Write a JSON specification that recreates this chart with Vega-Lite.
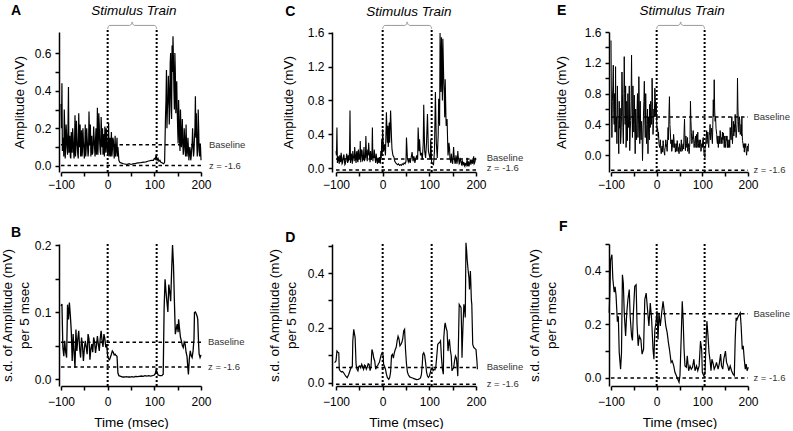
{
"$schema":"https://vega.github.io/schema/vega-lite/v6.json",
"padding":{"left":0,"top":3,"right":0,"bottom":0},
"autosize":{"type":"pad"},
"config":{"view":{"stroke":null},"font":"Liberation Sans",
"axis":{"domainColor":"#000","domainWidth":1.5,"tickColor":"#000","tickWidth":1.5,"tickSize":4,"labelColor":"#000","labelFontSize":12,"titleFontSize":13.5,"titleFontWeight":"normal","titleColor":"#000","grid":false,"labelFlush":false,"labelOverlap":false},
"axisX":{"labelPadding":3},"axisY":{"labelPadding":4}},
"bounds":"flush","columns":3,"spacing":{"row":72,"column":135},
"datasets":{
"refs":[{"p":"A","label":"Baseline","v":0.113,"lv":0.113},{"p":"A","label":"z = -1.6","v":0.002,"lv":0.0},{"p":"B","label":"Baseline","v":0.055,"lv":0.055},{"p":"B","label":"z = -1.6","v":0.018,"lv":0.018},{"p":"C","label":"Baseline","v":0.107,"lv":0.124},{"p":"C","label":"z = -1.6","v":-0.024,"lv":0.006},{"p":"D","label":"Baseline","v":0.056,"lv":0.058},{"p":"D","label":"z = -1.6","v":-0.005,"lv":-0.004},{"p":"E","label":"Baseline","v":0.495,"lv":0.5},{"p":"E","label":"z = -1.6","v":-0.195,"lv":-0.19},{"p":"F","label":"Baseline","v":0.24,"lv":0.24},{"p":"F","label":"z = -1.6","v":0.0,"lv":0.0}],
"stim":[{"t":0},{"t":105}],
"brace":[{"t":0,"bA":0.7284,"bC":1.6475,"bE":1.64},{"t":1.5,"bA":0.7418,"bC":1.6773,"bE":1.6727},{"t":5,"bA":0.747,"bC":1.6889,"bE":1.6855},{"t":47,"bA":0.747,"bC":1.6889,"bE":1.6855},{"t":51,"bA":0.7537,"bC":1.7038,"bE":1.7018},{"t":52.5,"bA":0.7656,"bC":1.7304,"bE":1.7309},{"t":54,"bA":0.7537,"bC":1.7038,"bE":1.7018},{"t":58,"bA":0.747,"bC":1.6889,"bE":1.6855},{"t":100,"bA":0.747,"bC":1.6889,"bE":1.6855},{"t":103.5,"bA":0.7418,"bC":1.6773,"bE":1.6727},{"t":105,"bA":0.7284,"bC":1.6475,"bE":1.64}],
"notes":[{"text":"Stimulus Train"}],
"panels":[{"p":"A"},{"p":"B"},{"p":"C"},{"p":"D"},{"p":"E"},{"p":"F"}],
"A":[{"t":-100,"v":0.33},{"t":-98,"v":0.44},{"t":-96,"v":0.15},{"t":-94,"v":0.05},{"t":-92,"v":0.2},{"t":-90,"v":0.1},{"t":-88,"v":0.16},{"t":-86,"v":0.06},{"t":-84,"v":0.42},{"t":-82,"v":0.12},{"t":-80,"v":0.05},{"t":-78,"v":0.18},{"t":-76,"v":0.07},{"t":-74,"v":0.15},{"t":-72,"v":0.04},{"t":-70,"v":0.27},{"t":-68,"v":0.09},{"t":-66,"v":0.17},{"t":-64,"v":0.06},{"t":-62,"v":0.28},{"t":-60,"v":0.1},{"t":-58,"v":0.05},{"t":-56,"v":0.19},{"t":-54,"v":0.08},{"t":-52,"v":0.13},{"t":-50,"v":0.04},{"t":-48,"v":0.22},{"t":-46,"v":0.09},{"t":-44,"v":0.15},{"t":-42,"v":0.05},{"t":-40,"v":0.29},{"t":-38,"v":0.11},{"t":-36,"v":0.05},{"t":-34,"v":0.16},{"t":-32,"v":0.07},{"t":-30,"v":0.21},{"t":-28,"v":0.09},{"t":-26,"v":0.14},{"t":-24,"v":0.06},{"t":-22,"v":0.31},{"t":-20,"v":0.13},{"t":-18,"v":0.22},{"t":-16,"v":0.08},{"t":-14,"v":0.26},{"t":-12,"v":0.1},{"t":-10,"v":0.06},{"t":-8,"v":0.17},{"t":-6,"v":0.21},{"t":-4,"v":0.07},{"t":-2,"v":0.14},{"t":0,"v":0.06},{"t":2,"v":0.23},{"t":4,"v":0.1},{"t":6,"v":0.05},{"t":8,"v":0.18},{"t":10,"v":0.08},{"t":12,"v":0.14},{"t":14,"v":0.04},{"t":16,"v":0.16},{"t":18,"v":0.07},{"t":20,"v":0.15},{"t":22,"v":0.1},{"t":24,"v":0.03},{"t":26,"v":0.02},{"t":30,"v":0.015},{"t":34,"v":0.012},{"t":38,"v":0.01},{"t":42,"v":0.009},{"t":46,"v":0.012},{"t":50,"v":0.008},{"t":54,"v":0.011},{"t":58,"v":0.012},{"t":62,"v":0.015},{"t":66,"v":0.016},{"t":70,"v":0.017},{"t":74,"v":0.019},{"t":78,"v":0.02},{"t":82,"v":0.022},{"t":86,"v":0.025},{"t":90,"v":0.028},{"t":94,"v":0.03},{"t":98,"v":0.03},{"t":100,"v":0.04},{"t":102,"v":0.035},{"t":104,"v":0.06},{"t":106,"v":0.03},{"t":108,"v":0.04},{"t":110,"v":0.025},{"t":112,"v":0.03},{"t":114,"v":0.02},{"t":116,"v":0.018},{"t":118,"v":0.015},{"t":120,"v":0.012},{"t":122,"v":0.02},{"t":124,"v":0.27},{"t":126,"v":0.51},{"t":128,"v":0.3},{"t":130,"v":0.48},{"t":132,"v":0.22},{"t":134,"v":0.55},{"t":136,"v":0.35},{"t":138,"v":0.64},{"t":140,"v":0.69},{"t":142,"v":0.4},{"t":144,"v":0.6},{"t":146,"v":0.28},{"t":148,"v":0.45},{"t":150,"v":0.2},{"t":152,"v":0.35},{"t":154,"v":0.14},{"t":156,"v":0.3},{"t":158,"v":0.1},{"t":160,"v":0.25},{"t":162,"v":0.06},{"t":164,"v":0.2},{"t":166,"v":0.08},{"t":168,"v":0.22},{"t":170,"v":0.05},{"t":172,"v":0.15},{"t":174,"v":0.03},{"t":176,"v":0.1},{"t":178,"v":0.03},{"t":180,"v":0.09},{"t":182,"v":0.2},{"t":184,"v":0.05},{"t":186,"v":0.15},{"t":188,"v":0.37},{"t":190,"v":0.28},{"t":192,"v":0.05},{"t":194,"v":0.3},{"t":196,"v":0.08},{"t":198,"v":0.12},{"t":200,"v":0.03},
{"t":-99,"v":0.2},{"t":-97,"v":0.08},{"t":-95,"v":0.12},{"t":-93,"v":0.3},{"t":-91,"v":0.04},{"t":-89,"v":0.22},{"t":-87,"v":0.1},{"t":-85,"v":0.2},{"t":-83,"v":0.07},{"t":-81,"v":0.16},{"t":-79,"v":0.04},{"t":-77,"v":0.12},{"t":-75,"v":0.2},{"t":-73,"v":0.08},{"t":-71,"v":0.12},{"t":-69,"v":0.05},{"t":-67,"v":0.24},{"t":-65,"v":0.11},{"t":-63,"v":0.04},{"t":-61,"v":0.15},{"t":-59,"v":0.22},{"t":-57,"v":0.08},{"t":-55,"v":0.05},{"t":-53,"v":0.2},{"t":-51,"v":0.1},{"t":-49,"v":0.09},{"t":-47,"v":0.05},{"t":-45,"v":0.2},{"t":-43,"v":0.1},{"t":-41,"v":0.08},{"t":-39,"v":0.16},{"t":-37,"v":0.22},{"t":-35,"v":0.12},{"t":-33,"v":0.06},{"t":-31,"v":0.12},{"t":-29,"v":0.15},{"t":-27,"v":0.05},{"t":-25,"v":0.2},{"t":-23,"v":0.12},{"t":-21,"v":0.06},{"t":-19,"v":0.28},{"t":-17,"v":0.12},{"t":-15,"v":0.06},{"t":-13,"v":0.18},{"t":-11,"v":0.2},{"t":-9,"v":0.09},{"t":-7,"v":0.05},{"t":-5,"v":0.15},{"t":-3,"v":0.2},{"t":-1,"v":0.09},{"t":1,"v":0.12},{"t":3,"v":0.05},{"t":5,"v":0.15},{"t":7,"v":0.1},{"t":9,"v":0.05},{"t":11,"v":0.15},{"t":13,"v":0.1},{"t":15,"v":0.09},{"t":17,"v":0.05},{"t":19,"v":0.1},{"t":21,"v":0.05},
{"t":125,"v":0.35},{"t":127,"v":0.2},{"t":129,"v":0.35},{"t":131,"v":0.4},{"t":133,"v":0.3},{"t":135,"v":0.6},{"t":137,"v":0.25},{"t":139,"v":0.5},{"t":141,"v":0.55},{"t":143,"v":0.3},{"t":145,"v":0.5},{"t":147,"v":0.35},{"t":149,"v":0.3},{"t":151,"v":0.12},{"t":153,"v":0.25},{"t":155,"v":0.08},{"t":157,"v":0.2},{"t":159,"v":0.15},{"t":161,"v":0.12},{"t":163,"v":0.1},{"t":165,"v":0.15},{"t":167,"v":0.05},{"t":169,"v":0.12},{"t":171,"v":0.08},{"t":173,"v":0.1},{"t":175,"v":0.06},{"t":177,"v":0.08},{"t":179,"v":0.05},{"t":181,"v":0.12},{"t":183,"v":0.1},{"t":185,"v":0.08},{"t":187,"v":0.2},{"t":189,"v":0.15},{"t":191,"v":0.12},{"t":193,"v":0.1},{"t":195,"v":0.2},{"t":197,"v":0.05},{"t":199,"v":0.1}],
"B":[{"t":-100,"v":0.109},{"t":-98,"v":0.112},{"t":-96,"v":0.047},{"t":-94,"v":0.034},{"t":-92,"v":0.057},{"t":-90,"v":0.04},{"t":-88,"v":0.032},{"t":-86,"v":0.111},{"t":-84,"v":0.089},{"t":-82,"v":0.114},{"t":-80,"v":0.095},{"t":-78,"v":0.072},{"t":-76,"v":0.027},{"t":-74,"v":0.067},{"t":-72,"v":0.04},{"t":-70,"v":0.017},{"t":-68,"v":0.074},{"t":-66,"v":0.042},{"t":-64,"v":0.06},{"t":-62,"v":0.072},{"t":-60,"v":0.045},{"t":-58,"v":0.032},{"t":-56,"v":0.062},{"t":-54,"v":0.05},{"t":-52,"v":0.027},{"t":-50,"v":0.045},{"t":-48,"v":0.057},{"t":-46,"v":0.048},{"t":-44,"v":0.037},{"t":-42,"v":0.067},{"t":-40,"v":0.06},{"t":-38,"v":0.029},{"t":-36,"v":0.045},{"t":-34,"v":0.052},{"t":-32,"v":0.04},{"t":-30,"v":0.062},{"t":-28,"v":0.055},{"t":-26,"v":0.039},{"t":-24,"v":0.05},{"t":-22,"v":0.064},{"t":-20,"v":0.052},{"t":-18,"v":0.042},{"t":-16,"v":0.06},{"t":-14,"v":0.072},{"t":-12,"v":0.057},{"t":-10,"v":0.048},{"t":-8,"v":0.067},{"t":-6,"v":0.06},{"t":-4,"v":0.047},{"t":-2,"v":0.052},{"t":0,"v":0.034},{"t":2,"v":0.03},{"t":4,"v":0.029},{"t":6,"v":0.033},{"t":8,"v":0.037},{"t":10,"v":0.042},{"t":12,"v":0.04},{"t":14,"v":0.036},{"t":16,"v":0.037},{"t":18,"v":0.035},{"t":20,"v":0.034},{"t":22,"v":0.009},{"t":24,"v":0.005},{"t":28,"v":0.004},{"t":32,"v":0.003},{"t":36,"v":0.003},{"t":40,"v":0.0035},{"t":44,"v":0.003},{"t":48,"v":0.003},{"t":52,"v":0.0035},{"t":56,"v":0.003},{"t":60,"v":0.004},{"t":64,"v":0.0035},{"t":68,"v":0.004},{"t":72,"v":0.0045},{"t":76,"v":0.004},{"t":80,"v":0.005},{"t":84,"v":0.0045},{"t":88,"v":0.005},{"t":92,"v":0.0045},{"t":96,"v":0.005},{"t":100,"v":0.006},{"t":102,"v":0.008},{"t":104,"v":0.014},{"t":106,"v":0.01},{"t":108,"v":0.006},{"t":112,"v":0.005},{"t":116,"v":0.005},{"t":119,"v":0.007},{"t":121,"v":0.106},{"t":123,"v":0.149},{"t":125,"v":0.13},{"t":127,"v":0.115},{"t":129,"v":0.1},{"t":131,"v":0.141},{"t":133,"v":0.13},{"t":135,"v":0.116},{"t":137,"v":0.16},{"t":139,"v":0.2},{"t":140,"v":0.185},{"t":141,"v":0.171},{"t":143,"v":0.116},{"t":145,"v":0.067},{"t":147,"v":0.075},{"t":149,"v":0.082},{"t":151,"v":0.07},{"t":152,"v":0.089},{"t":154,"v":0.075},{"t":156,"v":0.062},{"t":158,"v":0.057},{"t":160,"v":0.05},{"t":162,"v":0.047},{"t":164,"v":0.055},{"t":166,"v":0.052},{"t":168,"v":0.04},{"t":170,"v":0.034},{"t":172,"v":0.015},{"t":173,"v":0.007},{"t":175,"v":0.03},{"t":177,"v":0.042},{"t":179,"v":0.035},{"t":181,"v":0.032},{"t":183,"v":0.042},{"t":185,"v":0.06},{"t":186,"v":0.099},{"t":188,"v":0.1},{"t":190,"v":0.097},{"t":192,"v":0.093},{"t":193,"v":0.089},{"t":195,"v":0.05},{"t":196,"v":0.037},{"t":198,"v":0.032},{"t":200,"v":0.036}],
"C":[{"t":-100,"v":0.2},{"t":-98,"v":0.48},{"t":-96,"v":0.12},{"t":-94,"v":0.08},{"t":-92,"v":0.15},{"t":-90,"v":0.07},{"t":-88,"v":0.13},{"t":-86,"v":0.06},{"t":-84,"v":0.14},{"t":-82,"v":0.09},{"t":-80,"v":0.05},{"t":-78,"v":0.12},{"t":-76,"v":0.08},{"t":-74,"v":0.15},{"t":-72,"v":0.1},{"t":-70,"v":0.68},{"t":-68,"v":0.15},{"t":-66,"v":0.1},{"t":-64,"v":0.2},{"t":-62,"v":0.12},{"t":-60,"v":0.25},{"t":-58,"v":0.1},{"t":-56,"v":0.18},{"t":-54,"v":0.09},{"t":-52,"v":0.22},{"t":-50,"v":0.12},{"t":-48,"v":0.32},{"t":-46,"v":0.14},{"t":-44,"v":0.2},{"t":-42,"v":0.1},{"t":-40,"v":0.25},{"t":-38,"v":0.15},{"t":-36,"v":0.38},{"t":-34,"v":0.12},{"t":-32,"v":0.22},{"t":-30,"v":0.3},{"t":-28,"v":0.13},{"t":-26,"v":0.2},{"t":-24,"v":0.1},{"t":-22,"v":0.48},{"t":-20,"v":0.14},{"t":-18,"v":0.22},{"t":-16,"v":0.1},{"t":-14,"v":0.17},{"t":-12,"v":0.08},{"t":-10,"v":0.12},{"t":-8,"v":0.06},{"t":-6,"v":0.1},{"t":-4,"v":0.2},{"t":-2,"v":0.34},{"t":0,"v":0.46},{"t":2,"v":0.2},{"t":4,"v":0.28},{"t":6,"v":0.15},{"t":8,"v":0.66},{"t":10,"v":0.3},{"t":11,"v":0.5},{"t":12,"v":0.25},{"t":14,"v":0.54},{"t":15,"v":0.3},{"t":17,"v":0.68},{"t":19,"v":0.35},{"t":20,"v":0.22},{"t":22,"v":0.15},{"t":24,"v":0.13},{"t":26,"v":0.08},{"t":28,"v":0.06},{"t":30,"v":0.05},{"t":32,"v":0.04},{"t":34,"v":0.05},{"t":36,"v":0.03},{"t":38,"v":0.04},{"t":40,"v":0.03},{"t":42,"v":0.05},{"t":44,"v":0.04},{"t":46,"v":0.06},{"t":48,"v":0.05},{"t":50,"v":0.08},{"t":51,"v":0.36},{"t":53,"v":0.12},{"t":55,"v":0.07},{"t":57,"v":0.1},{"t":59,"v":0.06},{"t":61,"v":0.12},{"t":63,"v":0.19},{"t":65,"v":0.08},{"t":67,"v":0.14},{"t":69,"v":0.06},{"t":71,"v":0.11},{"t":73,"v":0.15},{"t":75,"v":0.1},{"t":76,"v":0.48},{"t":78,"v":0.2},{"t":79,"v":0.34},{"t":81,"v":0.15},{"t":83,"v":0.18},{"t":85,"v":0.1},{"t":87,"v":0.3},{"t":88,"v":0.75},{"t":90,"v":0.2},{"t":92,"v":0.12},{"t":94,"v":0.3},{"t":96,"v":0.64},{"t":98,"v":0.2},{"t":100,"v":0.15},{"t":102,"v":0.1},{"t":103,"v":0.34},{"t":105,"v":0.06},{"t":107,"v":0.05},{"t":109,"v":0.04},{"t":111,"v":0.2},{"t":113,"v":0.9},{"t":115,"v":0.3},{"t":117,"v":0.12},{"t":119,"v":0.4},{"t":120,"v":0.82},{"t":122,"v":0.5},{"t":123,"v":1.6},{"t":125,"v":0.9},{"t":126,"v":1.55},{"t":127,"v":1.25},{"t":128,"v":0.8},{"t":129,"v":1.53},{"t":131,"v":1.0},{"t":132,"v":0.86},{"t":133,"v":0.6},{"t":134,"v":1.05},{"t":136,"v":0.5},{"t":138,"v":0.58},{"t":140,"v":0.15},{"t":142,"v":0.3},{"t":143.5,"v":0.22},{"t":145,"v":0.1},{"t":147,"v":0.17},{"t":149,"v":0.08},{"t":151,"v":0.15},{"t":152,"v":0.25},{"t":154,"v":0.1},{"t":156,"v":0.07},{"t":158,"v":0.12},{"t":160,"v":0.08},{"t":161,"v":0.2},{"t":163,"v":0.1},{"t":165,"v":0.06},{"t":167,"v":0.1},{"t":169,"v":0.04},{"t":171,"v":0.09},{"t":173,"v":0.05},{"t":175,"v":0.03},{"t":177,"v":0.06},{"t":179,"v":0.03},{"t":181,"v":0.12},{"t":183,"v":0.05},{"t":185,"v":0.02},{"t":187,"v":0.07},{"t":189,"v":0.04},{"t":191,"v":0.1},{"t":193,"v":0.05},{"t":195,"v":0.14},{"t":197,"v":0.06},{"t":199,"v":0.12},{"t":200,"v":0.1},
{"t":-99,"v":0.15},{"t":-97,"v":0.06},{"t":-95,"v":0.14},{"t":-93,"v":0.05},{"t":-91,"v":0.12},{"t":-89,"v":0.18},{"t":-87,"v":0.05},{"t":-85,"v":0.1},{"t":-83,"v":0.16},{"t":-81,"v":0.04},{"t":-79,"v":0.1},{"t":-77,"v":0.17},{"t":-75,"v":0.06},{"t":-73,"v":0.09},{"t":-71,"v":0.2},{"t":-69,"v":0.06},{"t":-67,"v":0.16},{"t":-65,"v":0.05},{"t":-63,"v":0.14},{"t":-61,"v":0.08},{"t":-59,"v":0.18},{"t":-57,"v":0.06},{"t":-55,"v":0.2},{"t":-53,"v":0.07},{"t":-51,"v":0.15},{"t":-49,"v":0.1},{"t":-47,"v":0.07},{"t":-45,"v":0.22},{"t":-43,"v":0.09},{"t":-41,"v":0.16},{"t":-39,"v":0.08},{"t":-37,"v":0.12},{"t":-35,"v":0.2},{"t":-33,"v":0.08},{"t":-31,"v":0.15},{"t":-29,"v":0.2},{"t":-27,"v":0.07},{"t":-25,"v":0.14},{"t":-23,"v":0.15},{"t":-21,"v":0.08},{"t":-19,"v":0.12},{"t":-17,"v":0.15},{"t":-15,"v":0.06},{"t":-13,"v":0.12},{"t":-11,"v":0.05},{"t":-9,"v":0.1},{"t":-7,"v":0.13},{"t":-5,"v":0.05},{"t":-3,"v":0.12},{"t":-1,"v":0.15},
{"t":141,"v":0.2},{"t":144,"v":0.12},{"t":146,"v":0.06},{"t":148,"v":0.12},{"t":150,"v":0.05},{"t":153,"v":0.15},{"t":155,"v":0.05},{"t":157,"v":0.15},{"t":159,"v":0.05},{"t":162,"v":0.13},{"t":164,"v":0.05},{"t":166,"v":0.12},{"t":168,"v":0.08},{"t":170,"v":0.05},{"t":172,"v":0.04},{"t":174,"v":0.07},{"t":176,"v":0.02},{"t":178,"v":0.04},{"t":180,"v":0.06},{"t":182,"v":0.02},{"t":184,"v":0.08},{"t":186,"v":0.05},{"t":188,"v":0.1},{"t":190,"v":0.06},{"t":192,"v":0.08},{"t":194,"v":0.1},{"t":196,"v":0.05},{"t":198,"v":0.08}],
"D":[{"t":-103,"v":0.074},{"t":-100,"v":0.08},{"t":-98,"v":0.116},{"t":-96,"v":0.112},{"t":-94,"v":0.11},{"t":-93,"v":0.05},{"t":-91,"v":0.044},{"t":-88,"v":0.04},{"t":-86,"v":0.042},{"t":-84,"v":0.038},{"t":-81,"v":0.03},{"t":-79,"v":0.025},{"t":-76,"v":0.019},{"t":-73,"v":0.03},{"t":-71,"v":0.04},{"t":-69,"v":0.05},{"t":-67,"v":0.058},{"t":-65,"v":0.06},{"t":-64,"v":0.153},{"t":-62,"v":0.195},{"t":-60,"v":0.175},{"t":-59,"v":0.165},{"t":-57,"v":0.068},{"t":-55,"v":0.05},{"t":-53,"v":0.044},{"t":-51,"v":0.06},{"t":-49,"v":0.062},{"t":-47,"v":0.055},{"t":-45,"v":0.068},{"t":-43,"v":0.06},{"t":-41,"v":0.05},{"t":-39,"v":0.065},{"t":-37,"v":0.062},{"t":-35,"v":0.05},{"t":-33,"v":0.058},{"t":-31,"v":0.07},{"t":-29,"v":0.068},{"t":-27,"v":0.045},{"t":-25,"v":0.06},{"t":-23,"v":0.122},{"t":-21,"v":0.11},{"t":-19,"v":0.09},{"t":-17,"v":0.08},{"t":-15,"v":0.05},{"t":-13,"v":0.06},{"t":-11,"v":0.062},{"t":-9,"v":0.07},{"t":-7,"v":0.075},{"t":-5,"v":0.09},{"t":-3,"v":0.104},{"t":-1,"v":0.11},{"t":1,"v":0.1},{"t":2,"v":0.068},{"t":4,"v":0.06},{"t":6,"v":0.05},{"t":8,"v":0.032},{"t":10,"v":0.02},{"t":13,"v":0.013},{"t":15,"v":0.02},{"t":17,"v":0.04},{"t":19,"v":0.1},{"t":21,"v":0.104},{"t":23,"v":0.09},{"t":25,"v":0.11},{"t":27,"v":0.122},{"t":29,"v":0.13},{"t":31,"v":0.153},{"t":33,"v":0.17},{"t":35,"v":0.16},{"t":37,"v":0.135},{"t":39,"v":0.14},{"t":41,"v":0.147},{"t":43,"v":0.16},{"t":45,"v":0.189},{"t":47,"v":0.195},{"t":49,"v":0.12},{"t":51,"v":0.07},{"t":53,"v":0.04},{"t":55,"v":0.03},{"t":58,"v":0.022},{"t":61,"v":0.02},{"t":64,"v":0.018},{"t":67,"v":0.016},{"t":70,"v":0.014},{"t":73,"v":0.012},{"t":76,"v":0.013},{"t":79,"v":0.015},{"t":81,"v":0.018},{"t":83,"v":0.03},{"t":85,"v":0.07},{"t":86,"v":0.104},{"t":88,"v":0.11},{"t":90,"v":0.1},{"t":92,"v":0.074},{"t":94,"v":0.04},{"t":96,"v":0.025},{"t":98,"v":0.02},{"t":100,"v":0.025},{"t":102,"v":0.038},{"t":104,"v":0.05},{"t":106,"v":0.056},{"t":108,"v":0.045},{"t":110,"v":0.05},{"t":112,"v":0.048},{"t":114,"v":0.06},{"t":116,"v":0.098},{"t":118,"v":0.14},{"t":120,"v":0.145},{"t":122,"v":0.147},{"t":124,"v":0.153},{"t":126,"v":0.092},{"t":128,"v":0.05},{"t":130,"v":0.032},{"t":131,"v":0.165},{"t":133,"v":0.21},{"t":134,"v":0.219},{"t":136,"v":0.2},{"t":138,"v":0.189},{"t":140,"v":0.116},{"t":142,"v":0.15},{"t":143,"v":0.159},{"t":145,"v":0.12},{"t":147,"v":0.098},{"t":148.5,"v":0.044},{"t":150,"v":0.05},{"t":152,"v":0.055},{"t":154,"v":0.08},{"t":156,"v":0.098},{"t":158,"v":0.09},{"t":160,"v":0.05},{"t":161,"v":0.025},{"t":163,"v":0.2},{"t":164,"v":0.286},{"t":166,"v":0.28},{"t":168,"v":0.274},{"t":169,"v":0.2},{"t":170,"v":0.092},{"t":171,"v":0.15},{"t":172,"v":0.201},{"t":174,"v":0.286},{"t":176,"v":0.26},{"t":177,"v":0.238},{"t":178.5,"v":0.51},{"t":180,"v":0.48},{"t":181,"v":0.45},{"t":183,"v":0.413},{"t":185,"v":0.38},{"t":186,"v":0.34},{"t":188,"v":0.407},{"t":189,"v":0.36},{"t":190,"v":0.304},{"t":191,"v":0.286},{"t":193,"v":0.14},{"t":195,"v":0.13},{"t":196,"v":0.128},{"t":198,"v":0.125},{"t":200,"v":0.122},{"t":202,"v":0.08},{"t":203,"v":0.05}],
"E":[{"t":-100,"v":1.49},{"t":-99,"v":0.6},{"t":-98,"v":0.23},{"t":-96,"v":0.9},{"t":-95,"v":1.17},{"t":-93,"v":0.4},{"t":-91,"v":0.3},{"t":-90,"v":1.15},{"t":-88,"v":0.5},{"t":-87,"v":0.15},{"t":-85,"v":0.53},{"t":-83,"v":0.02},{"t":-81,"v":0.35},{"t":-80,"v":0.61},{"t":-78,"v":0.25},{"t":-76,"v":1.08},{"t":-74,"v":0.36},{"t":-72,"v":0.6},{"t":-71,"v":1.28},{"t":-69,"v":0.4},{"t":-67,"v":0.1},{"t":-65.5,"v":0.7},{"t":-64,"v":0.19},{"t":-62,"v":0.36},{"t":-61,"v":0.5},{"t":-59,"v":0.06},{"t":-57,"v":0.45},{"t":-55,"v":1.3},{"t":-53,"v":0.23},{"t":-51,"v":0.5},{"t":-49,"v":0.78},{"t":-47,"v":0.02},{"t":-45,"v":0.3},{"t":-43,"v":0.57},{"t":-41,"v":0.23},{"t":-39,"v":1.02},{"t":-37,"v":0.15},{"t":-35,"v":0.3},{"t":-33,"v":0.44},{"t":-31,"v":-0.07},{"t":-29,"v":0.5},{"t":-27,"v":0.96},{"t":-25,"v":0.23},{"t":-23,"v":0.4},{"t":-21,"v":0.4},{"t":-19,"v":0.02},{"t":-17,"v":0.3},{"t":-15.5,"v":0.66},{"t":-14,"v":0.36},{"t":-12,"v":0.5},{"t":-10,"v":1.0},{"t":-8,"v":0.27},{"t":-6,"v":0.6},{"t":-4,"v":0.87},{"t":-2,"v":0.5},{"t":-1,"v":0.68},{"t":0.7,"v":0.32},{"t":2,"v":0.35},{"t":3.6,"v":0.23},{"t":5,"v":0.15},{"t":6.6,"v":0.1},{"t":8,"v":0.2},{"t":10,"v":0.02},{"t":12,"v":0.12},{"t":14,"v":0.19},{"t":16,"v":0.05},{"t":17.6,"v":0.0},{"t":19,"v":0.1},{"t":21,"v":0.15},{"t":23,"v":0.05},{"t":25,"v":0.36},{"t":27,"v":0.55},{"t":28,"v":0.76},{"t":30,"v":0.3},{"t":31,"v":0.15},{"t":33,"v":0.05},{"t":35,"v":0.2},{"t":37,"v":0.27},{"t":39,"v":0.1},{"t":41,"v":0.04},{"t":43,"v":0.15},{"t":45,"v":0.19},{"t":47,"v":0.05},{"t":49,"v":0.02},{"t":51,"v":0.1},{"t":53.6,"v":0.15},{"t":55,"v":0.05},{"t":56.6,"v":0.06},{"t":58,"v":0.15},{"t":60,"v":0.3},{"t":61,"v":0.47},{"t":63,"v":0.06},{"t":65,"v":0.15},{"t":67.6,"v":0.23},{"t":69,"v":0.1},{"t":71,"v":0.02},{"t":73,"v":0.2},{"t":74,"v":0.7},{"t":76,"v":0.3},{"t":78,"v":0.19},{"t":80,"v":0.32},{"t":82,"v":0.1},{"t":84,"v":0.2},{"t":86,"v":0.1},{"t":87.4,"v":0.27},{"t":89,"v":0.15},{"t":91,"v":0.1},{"t":93,"v":0.2},{"t":94.8,"v":0.19},{"t":97,"v":0.05},{"t":99,"v":0.15},{"t":100,"v":0.1},{"t":102,"v":0.23},{"t":104,"v":0.0},{"t":105.8,"v":-0.03},{"t":107,"v":0.1},{"t":109.5,"v":0.32},{"t":111,"v":0.2},{"t":113,"v":0.15},{"t":115,"v":0.25},{"t":117,"v":0.4},{"t":119,"v":0.3},{"t":121,"v":0.23},{"t":123,"v":0.4},{"t":124,"v":0.72},{"t":126,"v":0.98},{"t":127,"v":0.6},{"t":128,"v":0.44},{"t":130,"v":0.35},{"t":131.5,"v":0.27},{"t":133,"v":0.15},{"t":135,"v":0.1},{"t":137,"v":0.25},{"t":139,"v":0.32},{"t":141,"v":0.15},{"t":142.5,"v":0.23},{"t":144,"v":0.3},{"t":146,"v":0.29},{"t":148,"v":0.1},{"t":150,"v":0.15},{"t":152,"v":0.25},{"t":153.6,"v":0.19},{"t":155,"v":0.1},{"t":157,"v":0.1},{"t":159,"v":0.2},{"t":161,"v":0.36},{"t":163,"v":0.2},{"t":164.6,"v":0.5},{"t":166,"v":0.15},{"t":168,"v":0.44},{"t":170,"v":0.4},{"t":172,"v":0.53},{"t":174,"v":0.23},{"t":176,"v":0.4},{"t":177,"v":1.0},{"t":179,"v":0.44},{"t":181,"v":0.5},{"t":183,"v":0.27},{"t":185,"v":0.4},{"t":186.6,"v":0.49},{"t":188,"v":0.19},{"t":190,"v":0.1},{"t":192,"v":0.04},{"t":194,"v":0.1},{"t":195,"v":0.15},{"t":197,"v":0.0},{"t":198,"v":0.1},{"t":200,"v":0.05},{"t":201,"v":0.15},
{"t":-97,"v":0.7},{"t":-94,"v":0.55},{"t":-92,"v":0.8},{"t":-89,"v":0.3},{"t":-86,"v":0.9},{"t":-84,"v":0.4},{"t":-82,"v":0.7},{"t":-79,"v":0.15},{"t":-77,"v":0.5},{"t":-75,"v":0.8},{"t":-73,"v":0.15},{"t":-70,"v":0.8},{"t":-68,"v":0.9},{"t":-66,"v":0.25},{"t":-63,"v":0.8},{"t":-60,"v":0.9},{"t":-58,"v":0.3},{"t":-56,"v":0.7},{"t":-54,"v":0.6},{"t":-52,"v":0.9},{"t":-50,"v":0.3},{"t":-48,"v":0.4},{"t":-46,"v":0.6},{"t":-44,"v":0.2},{"t":-42,"v":0.8},{"t":-40,"v":0.4},{"t":-38,"v":0.6},{"t":-36,"v":0.7},{"t":-34,"v":0.2},{"t":-32,"v":0.3},{"t":-30,"v":0.2},{"t":-28,"v":0.7},{"t":-26,"v":0.5},{"t":-24,"v":0.8},{"t":-22,"v":0.15},{"t":-20,"v":0.6},{"t":-18,"v":0.5},{"t":-16,"v":0.2},{"t":-13,"v":0.7},{"t":-11,"v":0.4},{"t":-9,"v":0.7},{"t":-7,"v":0.4},{"t":-5,"v":0.5},{"t":-3,"v":0.75},
{"t":4,"v":0.3},{"t":9,"v":0.08},{"t":11,"v":0.1},{"t":13,"v":0.04},{"t":15,"v":0.15},{"t":18,"v":0.08},{"t":20,"v":0.2},{"t":22,"v":0.1},{"t":24,"v":0.2},{"t":26,"v":0.2},{"t":29,"v":0.4},{"t":32,"v":0.2},{"t":34,"v":0.1},{"t":36,"v":0.1},{"t":38,"v":0.2},{"t":40,"v":0.15},{"t":42,"v":0.1},{"t":44,"v":0.05},{"t":46,"v":0.12},{"t":48,"v":0.1},{"t":50,"v":0.15},{"t":52,"v":0.05},{"t":54,"v":0.2},{"t":57,"v":0.12},{"t":59,"v":0.08},{"t":62,"v":0.2},{"t":64,"v":0.25},{"t":66,"v":0.1},{"t":68,"v":0.05},{"t":70,"v":0.15},{"t":72,"v":0.1},{"t":75,"v":0.45},{"t":77,"v":0.15},{"t":79,"v":0.25},{"t":81,"v":0.2},{"t":83,"v":0.15},{"t":85,"v":0.25},{"t":88,"v":0.1},{"t":90,"v":0.3},{"t":92,"v":0.15},{"t":94,"v":0.1},{"t":96,"v":0.2},{"t":98,"v":0.1},{"t":101,"v":0.2},{"t":103,"v":0.1},{"t":106,"v":0.1},{"t":108,"v":0.2},{"t":110,"v":0.15},{"t":112,"v":0.3},{"t":114,"v":0.1},{"t":116,"v":0.3},{"t":118,"v":0.2},{"t":120,"v":0.35},{"t":122,"v":0.15},{"t":125,"v":0.5},{"t":129,"v":0.5},{"t":132,"v":0.2},{"t":134,"v":0.25},{"t":136,"v":0.2},{"t":138,"v":0.15},{"t":140,"v":0.25},{"t":143,"v":0.15},{"t":145,"v":0.2},{"t":147,"v":0.2},{"t":149,"v":0.25},{"t":151,"v":0.1},{"t":154,"v":0.25},{"t":156,"v":0.2},{"t":158,"v":0.15},{"t":160,"v":0.1},{"t":162,"v":0.25},{"t":165,"v":0.3},{"t":167,"v":0.3},{"t":169,"v":0.25},{"t":171,"v":0.3},{"t":173,"v":0.35},{"t":175,"v":0.3},{"t":178,"v":0.6},{"t":180,"v":0.3},{"t":182,"v":0.45},{"t":184,"v":0.3},{"t":186,"v":0.25},{"t":187,"v":0.3},{"t":189,"v":0.15},{"t":191,"v":0.15},{"t":193,"v":0.15},{"t":196,"v":0.05},{"t":199,"v":0.12}],
"F":[{"t":-104,"v":0.243},{"t":-102,"v":0.35},{"t":-101,"v":0.44},{"t":-98,"v":0.46},{"t":-96,"v":0.37},{"t":-93,"v":0.32},{"t":-91,"v":0.34},{"t":-89,"v":0.31},{"t":-86,"v":0.21},{"t":-84,"v":0.23},{"t":-82,"v":0.095},{"t":-79,"v":0.033},{"t":-77,"v":0.095},{"t":-75,"v":0.385},{"t":-73,"v":0.354},{"t":-71,"v":0.243},{"t":-68,"v":0.157},{"t":-65.5,"v":0.243},{"t":-63,"v":0.293},{"t":-60,"v":0.33},{"t":-58,"v":0.23},{"t":-55,"v":0.157},{"t":-53,"v":0.14},{"t":-51,"v":0.243},{"t":-48,"v":0.342},{"t":-45,"v":0.348},{"t":-43,"v":0.2},{"t":-40.5,"v":0.12},{"t":-38,"v":0.157},{"t":-34.6,"v":0.144},{"t":-32,"v":0.089},{"t":-28.7,"v":0.107},{"t":-26,"v":0.293},{"t":-23,"v":0.317},{"t":-20,"v":0.255},{"t":-17,"v":0.194},{"t":-14,"v":0.28},{"t":-11,"v":0.218},{"t":-8,"v":0.107},{"t":-6,"v":0.07},{"t":-4,"v":0.18},{"t":-1.5,"v":0.206},{"t":0.7,"v":0.25},{"t":3,"v":0.144},{"t":5,"v":0.243},{"t":8,"v":0.194},{"t":11,"v":0.243},{"t":14,"v":0.286},{"t":17,"v":0.243},{"t":20,"v":0.194},{"t":23,"v":0.169},{"t":25.7,"v":0.132},{"t":28,"v":0.107},{"t":31.6,"v":0.058},{"t":34,"v":0.064},{"t":37.4,"v":0.045},{"t":40,"v":0.021},{"t":43,"v":0.009},{"t":46,"v":-0.004},{"t":49,"v":-0.016},{"t":51,"v":0.009},{"t":53.6,"v":0.144},{"t":56,"v":0.286},{"t":58,"v":0.218},{"t":60,"v":0.107},{"t":62,"v":0.045},{"t":65,"v":0.04},{"t":67,"v":0.083},{"t":70,"v":0.027},{"t":73,"v":0.045},{"t":75.7,"v":0.033},{"t":78.5,"v":0.04},{"t":81.5,"v":0.07},{"t":84,"v":0.027},{"t":87.4,"v":0.045},{"t":90,"v":0.027},{"t":93,"v":0.045},{"t":96,"v":0.138},{"t":98.5,"v":0.107},{"t":100,"v":0.021},{"t":103,"v":0.009},{"t":105.8,"v":0.015},{"t":108,"v":0.132},{"t":110,"v":0.212},{"t":112.4,"v":0.157},{"t":114.6,"v":0.095},{"t":117,"v":0.064},{"t":119,"v":0.027},{"t":121,"v":0.07},{"t":124,"v":0.052},{"t":126,"v":0.033},{"t":129,"v":0.045},{"t":131,"v":0.058},{"t":134.5,"v":0.033},{"t":137,"v":0.052},{"t":140,"v":0.089},{"t":142,"v":0.045},{"t":144.8,"v":0.033},{"t":147,"v":0.07},{"t":150.6,"v":0.1},{"t":153,"v":0.058},{"t":155.8,"v":0.045},{"t":158,"v":0.027},{"t":161,"v":0.045},{"t":164,"v":0.027},{"t":167,"v":0.015},{"t":170,"v":0.009},{"t":172,"v":0.144},{"t":174,"v":0.225},{"t":176,"v":0.218},{"t":178.6,"v":0.23},{"t":181,"v":0.237},{"t":183,"v":0.243},{"t":185,"v":0.194},{"t":187.4,"v":0.107},{"t":189.5,"v":0.12},{"t":191.8,"v":0.07},{"t":194,"v":0.033},{"t":196,"v":0.052},{"t":198,"v":0.027},{"t":200.6,"v":0.04}]
},
"concat":[
{"width":140,"height":140,"layer":[
  {"data":{"name":"refs"},"transform":[{"filter":"datum.p==='A'"}],"mark":{"type":"rule","strokeDash":[3.5,3],"strokeWidth":1.5,"color":"#000"},"encoding":{"x":{"datum":-100,"type":"quantitative","scale":{"domain":[-100,200],"nice":false,"zero":false}},"x2":{"datum":200},"y":{"field":"v","type":"quantitative","scale":{"domain":[-0.032,0.712],"nice":false,"zero":false}}}},
  {"data":{"name":"A"},"mark":{"type":"line","color":"#000","strokeWidth":1.2},"encoding":{"x":{"field":"t","type":"quantitative","scale":{"domain":[-100,200],"nice":false,"zero":false},"axis":{"values":[-100,-50,0,50,100,150,200],"tickCount":30,"format":"d","labelExpr":"datum.value % 100 === 0 ? datum.label : ''","title":null,"labelOverlap":false}},"y":{"field":"v","type":"quantitative","scale":{"domain":[-0.032,0.712],"nice":false,"zero":false},"axis":{"values":[0,0.1,0.2,0.3,0.4,0.5,0.6],"tickCount":30,"labelExpr":"round(datum.value*10) % 2 === 0 ? format(datum.value,'.1f') : ''","title":"Amplitude (mV)","offset":2,"titlePadding":8,"labelOverlap":false}}}},
  {"data":{"name":"refs"},"transform":[{"filter":"datum.p==='A'"}],"mark":{"type":"text","align":"left","baseline":"middle","fontSize":9.5,"color":"#333"},"encoding":{"x":{"datum":217,"type":"quantitative","scale":{"domain":[-100,200],"nice":false,"zero":false}},"y":{"field":"lv","type":"quantitative","scale":{"domain":[-0.032,0.712],"nice":false,"zero":false}},"text":{"field":"label"}}},
  {"data":{"name":"stim"},"mark":{"type":"rule","strokeDash":[2,2],"strokeWidth":2,"color":"#000"},"encoding":{"x":{"field":"t","type":"quantitative","scale":{"domain":[-100,200],"nice":false,"zero":false}},"y":{"datum":-0.032,"type":"quantitative","scale":{"domain":[-0.032,0.712],"nice":false,"zero":false}},"y2":{"datum":0.7306}}},
  {"data":{"name":"brace"},"mark":{"type":"line","color":"#999","strokeWidth":1,"interpolate":"monotone"},"encoding":{"x":{"field":"t","type":"quantitative","scale":{"domain":[-100,200],"nice":false,"zero":false}},"y":{"field":"bA","type":"quantitative","scale":{"domain":[-0.032,0.712],"nice":false,"zero":false}}}},
  {"data":{"name":"notes"},"mark":{"type":"text","fontSize":13.5,"fontStyle":"italic","align":"center","baseline":"middle","color":"#000"},"encoding":{"x":{"datum":56,"type":"quantitative","scale":{"domain":[-100,200],"nice":false,"zero":false}},"y":{"datum":0.8236,"type":"quantitative","scale":{"domain":[-0.032,0.712],"nice":false,"zero":false}},"text":{"field":"text"}}},
  {"data":{"name":"panels"},"transform":[{"filter":"datum.p==='A'"}],"mark":{"type":"text","fontSize":14,"fontWeight":"bold","align":"left","baseline":"middle","color":"#000"},"encoding":{"x":{"datum":-207,"type":"quantitative","scale":{"domain":[-100,200],"nice":false,"zero":false}},"y":{"datum":0.8236,"type":"quantitative","scale":{"domain":[-0.032,0.712],"nice":false,"zero":false}},"text":{"field":"p"}}}
]},
{"width":140,"height":140,"layer":[
  {"data":{"name":"refs"},"transform":[{"filter":"datum.p==='C'"}],"mark":{"type":"rule","strokeDash":[3.5,3],"strokeWidth":1.5,"color":"#000"},"encoding":{"x":{"datum":-100,"type":"quantitative","scale":{"domain":[-100,200],"nice":false,"zero":false}},"x2":{"datum":200},"y":{"field":"v","type":"quantitative","scale":{"domain":[-0.047,1.611],"nice":false,"zero":false}}}},
  {"data":{"name":"C"},"mark":{"type":"line","color":"#000","strokeWidth":1.1},"encoding":{"x":{"field":"t","type":"quantitative","scale":{"domain":[-100,200],"nice":false,"zero":false},"axis":{"values":[-100,-50,0,50,100,150,200],"tickCount":30,"format":"d","labelExpr":"datum.value % 100 === 0 ? datum.label : ''","title":null,"labelOverlap":false}},"y":{"field":"v","type":"quantitative","scale":{"domain":[-0.047,1.611],"nice":false,"zero":false},"axis":{"values":[0,0.4,0.8,1.2,1.6],"tickCount":30,"format":".1f","title":"Amplitude (mV)","offset":4,"titlePadding":12,"labelOverlap":false}}}},
  {"data":{"name":"refs"},"transform":[{"filter":"datum.p==='C'"}],"mark":{"type":"text","align":"left","baseline":"middle","fontSize":9.5,"color":"#333"},"encoding":{"x":{"datum":223,"type":"quantitative","scale":{"domain":[-100,200],"nice":false,"zero":false}},"y":{"field":"lv","type":"quantitative","scale":{"domain":[-0.047,1.611],"nice":false,"zero":false}},"text":{"field":"label"}}},
  {"data":{"name":"stim"},"mark":{"type":"rule","strokeDash":[2,2],"strokeWidth":2,"color":"#000"},"encoding":{"x":{"field":"t","type":"quantitative","scale":{"domain":[-100,200],"nice":false,"zero":false}},"y":{"datum":-0.047,"type":"quantitative","scale":{"domain":[-0.047,1.611],"nice":false,"zero":false}},"y2":{"datum":1.6525}}},
  {"data":{"name":"brace"},"mark":{"type":"line","color":"#999","strokeWidth":1,"interpolate":"monotone"},"encoding":{"x":{"field":"t","type":"quantitative","scale":{"domain":[-100,200],"nice":false,"zero":false}},"y":{"field":"bC","type":"quantitative","scale":{"domain":[-0.047,1.611],"nice":false,"zero":false}}}},
  {"data":{"name":"notes"},"mark":{"type":"text","fontSize":13.5,"fontStyle":"italic","align":"center","baseline":"middle","color":"#000"},"encoding":{"x":{"datum":56,"type":"quantitative","scale":{"domain":[-100,200],"nice":false,"zero":false}},"y":{"datum":1.8431,"type":"quantitative","scale":{"domain":[-0.047,1.611],"nice":false,"zero":false}},"text":{"field":"text"}}},
  {"data":{"name":"panels"},"transform":[{"filter":"datum.p==='C'"}],"mark":{"type":"text","fontSize":14,"fontWeight":"bold","align":"left","baseline":"middle","color":"#000"},"encoding":{"x":{"datum":-209,"type":"quantitative","scale":{"domain":[-100,200],"nice":false,"zero":false}},"y":{"datum":1.8431,"type":"quantitative","scale":{"domain":[-0.047,1.611],"nice":false,"zero":false}},"text":{"field":"p"}}}
]},
{"width":137,"height":140,"layer":[
  {"data":{"name":"refs"},"transform":[{"filter":"datum.p==='E'"}],"mark":{"type":"rule","strokeDash":[3.5,3],"strokeWidth":1.5,"color":"#000"},"encoding":{"x":{"datum":-100,"type":"quantitative","scale":{"domain":[-100,200],"nice":false,"zero":false}},"x2":{"datum":200},"y":{"field":"v","type":"quantitative","scale":{"domain":[-0.218,1.6],"nice":false,"zero":false}}}},
  {"data":{"name":"E"},"mark":{"type":"line","color":"#000","strokeWidth":1},"encoding":{"x":{"field":"t","type":"quantitative","scale":{"domain":[-100,200],"nice":false,"zero":false},"axis":{"values":[-100,-50,0,50,100,150,200],"tickCount":30,"format":"d","labelExpr":"datum.value % 100 === 0 ? datum.label : ''","title":null,"labelOverlap":false}},"y":{"field":"v","type":"quantitative","scale":{"domain":[-0.218,1.6],"nice":false,"zero":false},"axis":{"values":[0,0.2,0.4,0.6,0.8,1.0,1.2,1.4,1.6],"tickCount":30,"labelExpr":"round(datum.value*10) % 4 === 0 ? format(datum.value,'.1f') : ''","title":"Amplitude (mV)","offset":2,"titlePadding":16,"labelOverlap":false}}}},
  {"data":{"name":"refs"},"transform":[{"filter":"datum.p==='E'"}],"mark":{"type":"text","align":"left","baseline":"middle","fontSize":9.5,"color":"#333"},"encoding":{"x":{"datum":212,"type":"quantitative","scale":{"domain":[-100,200],"nice":false,"zero":false}},"y":{"field":"lv","type":"quantitative","scale":{"domain":[-0.218,1.6],"nice":false,"zero":false}},"text":{"field":"label"}}},
  {"data":{"name":"stim"},"mark":{"type":"rule","strokeDash":[2,2],"strokeWidth":2,"color":"#000"},"encoding":{"x":{"field":"t","type":"quantitative","scale":{"domain":[-100,200],"nice":false,"zero":false}},"y":{"datum":-0.218,"type":"quantitative","scale":{"domain":[-0.218,1.6],"nice":false,"zero":false}},"y2":{"datum":1.6455}}},
  {"data":{"name":"brace"},"mark":{"type":"line","color":"#999","strokeWidth":1,"interpolate":"monotone"},"encoding":{"x":{"field":"t","type":"quantitative","scale":{"domain":[-100,200],"nice":false,"zero":false}},"y":{"field":"bE","type":"quantitative","scale":{"domain":[-0.218,1.6],"nice":false,"zero":false}}}},
  {"data":{"name":"notes"},"mark":{"type":"text","fontSize":13.5,"fontStyle":"italic","align":"center","baseline":"middle","color":"#000"},"encoding":{"x":{"datum":56,"type":"quantitative","scale":{"domain":[-100,200],"nice":false,"zero":false}},"y":{"datum":1.8727,"type":"quantitative","scale":{"domain":[-0.218,1.6],"nice":false,"zero":false}},"text":{"field":"text"}}},
  {"data":{"name":"panels"},"transform":[{"filter":"datum.p==='E'"}],"mark":{"type":"text","fontSize":14,"fontWeight":"bold","align":"left","baseline":"middle","color":"#000"},"encoding":{"x":{"datum":-218,"type":"quantitative","scale":{"domain":[-100,200],"nice":false,"zero":false}},"y":{"datum":1.8727,"type":"quantitative","scale":{"domain":[-0.218,1.6],"nice":false,"zero":false}},"text":{"field":"p"}}}
]},
{"width":140,"height":142,"layer":[
  {"data":{"name":"refs"},"transform":[{"filter":"datum.p==='B'"}],"mark":{"type":"rule","strokeDash":[3.5,3],"strokeWidth":1.5,"color":"#000"},"encoding":{"x":{"datum":-100,"type":"quantitative","scale":{"domain":[-100,200],"nice":false,"zero":false}},"x2":{"datum":200},"y":{"field":"v","type":"quantitative","scale":{"domain":[-0.0104,0.2015],"nice":false,"zero":false}}}},
  {"data":{"name":"B"},"mark":{"type":"line","color":"#000","strokeWidth":1.3},"encoding":{"x":{"field":"t","type":"quantitative","scale":{"domain":[-100,200],"nice":false,"zero":false},"axis":{"values":[-100,-50,0,50,100,150,200],"tickCount":30,"format":"d","labelExpr":"datum.value % 100 === 0 ? datum.label : ''","title":"Time (msec)","titlePadding":8,"labelPadding":6,"labelOverlap":false}},"y":{"field":"v","type":"quantitative","scale":{"domain":[-0.0104,0.2015],"nice":false,"zero":false},"axis":{"values":[0,0.05,0.1,0.15,0.2],"tickCount":30,"labelExpr":"round(datum.value*100) % 10 === 0 ? format(datum.value,'.1f') : ''","title":["s.d. of Amplitude (mV)","per 5 msec"],"titleLineHeight":17,"offset":2,"titlePadding":3,"labelOverlap":false}}}},
  {"data":{"name":"refs"},"transform":[{"filter":"datum.p==='B'"}],"mark":{"type":"text","align":"left","baseline":"middle","fontSize":9.5,"color":"#333"},"encoding":{"x":{"datum":215,"type":"quantitative","scale":{"domain":[-100,200],"nice":false,"zero":false}},"y":{"field":"lv","type":"quantitative","scale":{"domain":[-0.0104,0.2015],"nice":false,"zero":false}},"text":{"field":"label"}}},
  {"data":{"name":"stim"},"mark":{"type":"rule","strokeDash":[2,2],"strokeWidth":2,"color":"#000"},"encoding":{"x":{"field":"t","type":"quantitative","scale":{"domain":[-100,200],"nice":false,"zero":false}},"y":{"datum":-0.0104,"type":"quantitative","scale":{"domain":[-0.0104,0.2015],"nice":false,"zero":false}},"y2":{"datum":0.2015}}},
  {"data":{"name":"panels"},"transform":[{"filter":"datum.p==='B'"}],"mark":{"type":"text","fontSize":14,"fontWeight":"bold","align":"left","baseline":"middle","color":"#000"},"encoding":{"x":{"datum":-207,"type":"quantitative","scale":{"domain":[-100,200],"nice":false,"zero":false}},"y":{"datum":0.2178,"type":"quantitative","scale":{"domain":[-0.0104,0.2015],"nice":false,"zero":false}},"text":{"field":"p"}}}
]},
{"width":140,"height":142,"layer":[
  {"data":{"name":"refs"},"transform":[{"filter":"datum.p==='D'"}],"mark":{"type":"rule","strokeDash":[3.5,3],"strokeWidth":1.5,"color":"#000"},"encoding":{"x":{"datum":-100,"type":"quantitative","scale":{"domain":[-100,200],"nice":false,"zero":false}},"x2":{"datum":200},"y":{"field":"v","type":"quantitative","scale":{"domain":[-0.011,0.5055],"nice":false,"zero":false}}}},
  {"data":{"name":"D"},"mark":{"type":"line","color":"#000","strokeWidth":1.2},"encoding":{"x":{"field":"t","type":"quantitative","scale":{"domain":[-100,200],"nice":false,"zero":false},"axis":{"values":[-100,-50,0,50,100,150,200],"tickCount":30,"format":"d","labelExpr":"datum.value % 100 === 0 ? datum.label : ''","title":"Time (msec)","titlePadding":8,"labelPadding":6,"labelOverlap":false}},"y":{"field":"v","type":"quantitative","scale":{"domain":[-0.011,0.5055],"nice":false,"zero":false},"axis":{"values":[0,0.1,0.2,0.3,0.4,0.5],"tickCount":30,"labelExpr":"round(datum.value*10) % 2 === 0 ? format(datum.value,'.1f') : ''","title":["s.d. of Amplitude (mV)","per 5 msec"],"titleLineHeight":17,"offset":4,"titlePadding":9,"labelOverlap":false}}}},
  {"data":{"name":"refs"},"transform":[{"filter":"datum.p==='D'"}],"mark":{"type":"text","align":"left","baseline":"middle","fontSize":9.5,"color":"#333"},"encoding":{"x":{"datum":223,"type":"quantitative","scale":{"domain":[-100,200],"nice":false,"zero":false}},"y":{"field":"lv","type":"quantitative","scale":{"domain":[-0.011,0.5055],"nice":false,"zero":false}},"text":{"field":"label"}}},
  {"data":{"name":"stim"},"mark":{"type":"rule","strokeDash":[2,2],"strokeWidth":2,"color":"#000"},"encoding":{"x":{"field":"t","type":"quantitative","scale":{"domain":[-100,200],"nice":false,"zero":false}},"y":{"datum":-0.011,"type":"quantitative","scale":{"domain":[-0.011,0.5055],"nice":false,"zero":false}},"y2":{"datum":0.5055}}},
  {"data":{"name":"panels"},"transform":[{"filter":"datum.p==='D'"}],"mark":{"type":"text","fontSize":14,"fontWeight":"bold","align":"left","baseline":"middle","color":"#000"},"encoding":{"x":{"datum":-209,"type":"quantitative","scale":{"domain":[-100,200],"nice":false,"zero":false}},"y":{"datum":0.5272,"type":"quantitative","scale":{"domain":[-0.011,0.5055],"nice":false,"zero":false}},"text":{"field":"p"}}}
]},
{"width":137,"height":142,"layer":[
  {"data":{"name":"refs"},"transform":[{"filter":"datum.p==='F'"}],"mark":{"type":"rule","strokeDash":[3.5,3],"strokeWidth":1.5,"color":"#000"},"encoding":{"x":{"datum":-100,"type":"quantitative","scale":{"domain":[-100,200],"nice":false,"zero":false}},"x2":{"datum":200},"y":{"field":"v","type":"quantitative","scale":{"domain":[-0.03,0.5],"nice":false,"zero":false}}}},
  {"data":{"name":"F"},"mark":{"type":"line","color":"#000","strokeWidth":1.2},"encoding":{"x":{"field":"t","type":"quantitative","scale":{"domain":[-100,200],"nice":false,"zero":false},"axis":{"values":[-100,-50,0,50,100,150,200],"tickCount":30,"format":"d","labelExpr":"datum.value % 100 === 0 ? datum.label : ''","title":"Time (msec)","titlePadding":8,"labelPadding":6,"labelOverlap":false}},"y":{"field":"v","type":"quantitative","scale":{"domain":[-0.03,0.5],"nice":false,"zero":false},"axis":{"values":[0,0.1,0.2,0.3,0.4,0.5],"tickCount":30,"labelExpr":"round(datum.value*10) % 2 === 0 ? format(datum.value,'.1f') : ''","title":["s.d. of Amplitude (mV)","per 5 msec"],"titleLineHeight":17,"offset":2,"titlePadding":26,"labelOverlap":false}}}},
  {"data":{"name":"refs"},"transform":[{"filter":"datum.p==='F'"}],"mark":{"type":"text","align":"left","baseline":"middle","fontSize":9.5,"color":"#333"},"encoding":{"x":{"datum":212,"type":"quantitative","scale":{"domain":[-100,200],"nice":false,"zero":false}},"y":{"field":"lv","type":"quantitative","scale":{"domain":[-0.03,0.5],"nice":false,"zero":false}},"text":{"field":"label"}}},
  {"data":{"name":"stim"},"mark":{"type":"rule","strokeDash":[2,2],"strokeWidth":2,"color":"#000"},"encoding":{"x":{"field":"t","type":"quantitative","scale":{"domain":[-100,200],"nice":false,"zero":false}},"y":{"datum":-0.03,"type":"quantitative","scale":{"domain":[-0.03,0.5],"nice":false,"zero":false}},"y2":{"datum":0.5}}},
  {"data":{"name":"panels"},"transform":[{"filter":"datum.p==='F'"}],"mark":{"type":"text","fontSize":14,"fontWeight":"bold","align":"left","baseline":"middle","color":"#000"},"encoding":{"x":{"datum":-214,"type":"quantitative","scale":{"domain":[-100,200],"nice":false,"zero":false}},"y":{"datum":0.5636,"type":"quantitative","scale":{"domain":[-0.03,0.5],"nice":false,"zero":false}},"text":{"field":"p"}}}
]}
]
}
